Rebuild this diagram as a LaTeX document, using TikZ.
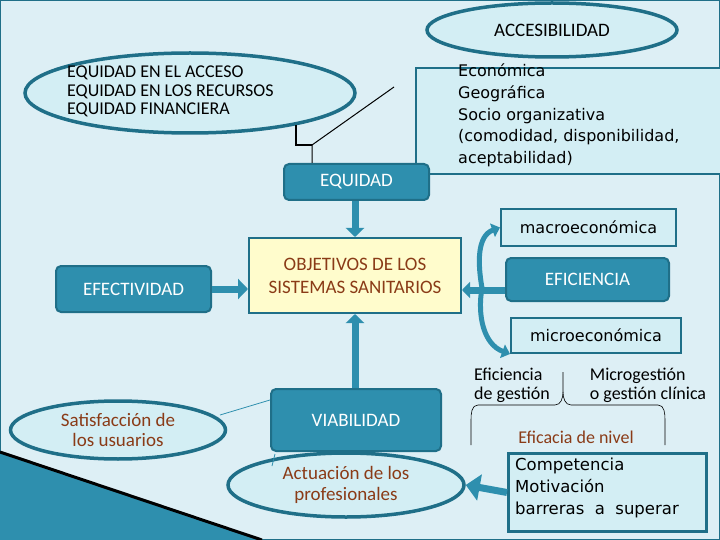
\documentclass[tikz,border=0pt]{standalone}
\usepackage{fontspec}
\setmainfont{Carlito}
\newfontfamily\dv{DejaVu Sans}
\usetikzlibrary{shapes.geometric,arrows.meta}
\definecolor{bg}{HTML}{DDEFF5}
\definecolor{tl}{HTML}{2E8FAE}
\definecolor{tld}{HTML}{1F6F88}
\definecolor{lt}{HTML}{D3EEF4}
\definecolor{br}{HTML}{8A3B17}
\tikzset{
 x=1pt,y=-1pt,
 ell/.style={ellipse,draw=tld,line width=3.5pt,fill=lt,inner sep=0pt},
 tbox/.style={draw=tld,line width=2pt,fill=tl,rounded corners=5pt,text=white,font=\fontsize{19}{22}\selectfont,inner sep=0pt},
 lbox/.style={draw=tld,line width=2pt,fill=lt,inner sep=0pt},
 fat/.style={draw=tld,fill=tl,line width=1pt},
 thin/.style={draw=tl,line width=0.8pt}
}
\begin{document}
\begin{tikzpicture}
\useasboundingbox (0,0) rectangle (720,540);
\fill[bg] (0,0) rectangle (720,540);
\draw[tld,line width=1pt] (0.5,0.5) rectangle (719.5,539.5);
\fill[tl] (0,452) -- (262,540) -- (0,540) -- cycle;
\draw[black,line width=3pt] (0,452) -- (262,540);
% ellipses
\node[ell,minimum width=250,minimum height=54] (acc) at (552,30) {\fontsize{19}{22}\selectfont ACCESIBILIDAD};
\node[ell,minimum width=330,minimum height=80] (eq3) at (190,93) {};
\node[anchor=north west,align=left,font=\fontsize{18}{18.5}\selectfont,inner sep=0pt] (eqt) at (67,66) {EQUIDAD EN EL ACCESO\\EQUIDAD EN LOS RECURSOS\\EQUIDAD FINANCIERA};
\node[lbox,minimum width=305,minimum height=106,anchor=north west] (accb) at (415,67) {};
\node[anchor=north west,align=left,font=\dv\fontsize{16}{21.6}\selectfont,inner sep=0pt] (acct) at (458,64) {Económica\\Geográfica\\Socio organizativa\\(comodidad, disponibilidad,\\aceptabilidad)};
% equidad
\node[tbox,minimum width=145,minimum height=36,anchor=north west] (equ) at (283,163) {EQUIDAD};
\coordinate (j) at (312,145);
\coordinate (k) at (394,87);
\coordinate (m) at (296,125);
\draw[black,line width=1pt] (equ.north -| j) -- (j) -- (k);
\draw[black,line width=2pt] (m) -- (296,145) -- (j);
% objetivos
\node[draw=tld,line width=2pt,fill=yellow!20,minimum width=212,minimum height=75,anchor=north west,align=center,text=br,font=\fontsize{19}{23}\selectfont,inner sep=0pt] (obj) at (248,237) {OBJETIVOS DE LOS\\SISTEMAS SANITARIOS};
\node[tbox,minimum width=155,minimum height=46,anchor=north west] (efe) at (55,265) {EFECTIVIDAD};
\node[lbox,minimum width=175,minimum height=37,anchor=north west,font=\dv\fontsize{16}{18}\selectfont] (mac) at (500,208) {macroeconómica};
\node[tbox,minimum width=163,minimum height=43,anchor=north west] (efi) at (505,257) {EFICIENCIA};
\node[lbox,minimum width=170,minimum height=35,anchor=north west,font=\dv\fontsize{16}{18}\selectfont] (mic) at (510,317) {microeconómica};
\node[tbox,minimum width=170,minimum height=62,anchor=north west] (via) at (270,388) {VIABILIDAD};
\node[ell,minimum width=215,minimum height=58,align=center,text=br,font=\fontsize{19}{20}\selectfont] (sat) at (118,430) {Satisfacción de\\los usuarios};
\node[ell,minimum width=236,minimum height=64,align=center,text=br,font=\fontsize{19}{21}\selectfont] (act) at (346,485) {Actuación de los\\profesionales};
\node[draw=tld,line width=3pt,fill=lt,minimum width=198,minimum height=78,anchor=north west] (com) at (507,452) {};
\node[anchor=north west,align=left,font=\dv\fontsize{16.5}{22}\selectfont,inner sep=0pt] (comt) at (515,458) {Competencia\\Motivación\\barreras\ \ a\ \ superar};
% arrows
\draw[line width=7pt,-{Triangle[length=9pt,width=18pt]},tl] (equ.south -| obj.north) -- (obj.north);
\draw[line width=7pt,-{Triangle[length=9pt,width=18pt]},tl] (via.north -| obj.south) -- (obj.south);
\draw[line width=7pt,-{Triangle[length=10pt,width=20pt]},tl] (efe.east) -- (obj.west |- efe.east);
\draw[line width=7pt,-{Triangle[length=8pt,width=16pt]},tl] (efi.west |- 0,290) -- (obj.east |- 0,290);
\coordinate (c) at (482,288);
\draw[line width=5pt,tl,-{Triangle[length=8pt,width=14pt]}] (c) to[out=100,in=200] (mac.west);
\draw[line width=5pt,tl,-{Triangle[length=8pt,width=14pt]}] (c) to[out=-100,in=160] (mic.west |- mic.south);
\draw[line width=7pt,tl,-{Triangle[length=14pt,width=26pt]}] (com.west) -- (act.east);
\draw[thin] (via.west |- 0,400) -- (220,415);
\draw[thin] (via.south west) ++(5,2) -- (272,466);
% eficiencia texts
\node[align=left,font=\fontsize{18}{19}\selectfont,inner sep=0pt] (eg) at (512,385) {Eficiencia\\de gestión};
\node[align=left,font=\fontsize{18}{19}\selectfont,inner sep=0pt] (mg) at (648,385) {Microgestión\\o gestión clínica};
\node[text=br,font=\fontsize{18}{19}\selectfont] (enl) at (576,437) {Eficacia de nivel};
\draw[black,line width=0.6pt] (471,445) -- (471,420) to[out=90,in=180] (478,405) -- (555,405) to[out=0,in=-90] (563,392) -- (563,372);
\draw[black,line width=0.6pt] (563,392) to[out=-90,in=180] (571,405) -- (658,405) to[out=0,in=90] (665,420) -- (665,445);
\end{tikzpicture}
\end{document}
